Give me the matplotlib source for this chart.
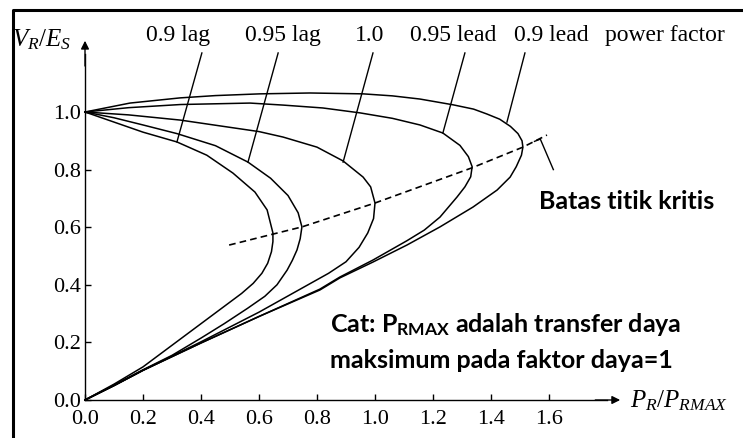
import matplotlib
matplotlib.use("Agg")
import matplotlib.pyplot as plt
from matplotlib.lines import Line2D

plt.rcParams["font.family"] = ["Liberation Serif", "DejaVu Serif"]
plt.rcParams["mathtext.fontset"] = "custom"
plt.rcParams["mathtext.it"] = "Liberation Serif:italic"
plt.rcParams["mathtext.rm"] = "Liberation Serif"
plt.rcParams["mathtext.bf"] = "Lato:bold"

# receiving-end voltage V_R/E_S against P_R/P_RMAX, one curve per power factor
lag09_x = [0.0, 0.1, 0.2, 0.317, 0.42, 0.51, 0.586, 0.628, 0.648, 0.648, 0.643, 0.63, 0.61, 0.58, 0.54, 0.48, 0.4, 0.3, 0.2, 0.1, 0.0]
lag09_y = [1.0, 0.965, 0.93, 0.896, 0.85, 0.788, 0.722, 0.66, 0.58, 0.55, 0.515, 0.475, 0.44, 0.405, 0.37, 0.325, 0.265, 0.19, 0.115, 0.055, 0.0]

lag095_x = [0.0, 0.1, 0.2, 0.317, 0.45, 0.562, 0.64, 0.7, 0.735, 0.748, 0.742, 0.731, 0.715, 0.697, 0.662, 0.62, 0.56, 0.48, 0.4, 0.3, 0.2, 0.1, 0.0]
lag095_y = [1.0, 0.98, 0.955, 0.925, 0.883, 0.826, 0.77, 0.71, 0.65, 0.601, 0.56, 0.521, 0.485, 0.451, 0.4, 0.36, 0.318, 0.265, 0.215, 0.155, 0.105, 0.052, 0.0]

unity_x = [0.0, 0.15, 0.328, 0.6, 0.683, 0.8, 0.89, 0.959, 0.985, 1.0, 0.995, 0.975, 0.945, 0.9, 0.84, 0.76, 0.6, 0.4, 0.2, 0.1, 0.0]
unity_y = [1.0, 0.99, 0.972, 0.932, 0.913, 0.878, 0.83, 0.774, 0.74, 0.684, 0.63, 0.58, 0.53, 0.48, 0.44, 0.395, 0.305, 0.202, 0.103, 0.05, 0.0]

lead095_x = [0.0, 0.15, 0.33, 0.569, 0.683, 0.82, 0.948, 1.06, 1.155, 1.234, 1.293, 1.322, 1.335, 1.33, 1.31, 1.283, 1.224, 1.17, 1.11, 0.993, 0.879, 0.81, 0.6, 0.4, 0.2, 0.1, 0.0]
lead095_y = [1.0, 1.015, 1.026, 1.031, 1.024, 1.014, 0.997, 0.978, 0.955, 0.927, 0.884, 0.845, 0.81, 0.775, 0.74, 0.705, 0.635, 0.59, 0.553, 0.486, 0.427, 0.385, 0.29, 0.198, 0.103, 0.05, 0.0]

lead09_x = [0.0, 0.155, 0.328, 0.45, 0.603, 0.776, 0.959, 1.06, 1.155, 1.269, 1.34, 1.386, 1.43, 1.467, 1.493, 1.507, 1.51, 1.505, 1.487, 1.466, 1.421, 1.338, 1.224, 1.11, 0.993, 0.879, 0.81, 0.6, 0.4, 0.2, 0.1, 0.0]
lead09_y = [1.0, 1.031, 1.049, 1.057, 1.063, 1.066, 1.063, 1.056, 1.045, 1.025, 1.01, 0.993, 0.975, 0.95, 0.925, 0.9, 0.878, 0.85, 0.81, 0.774, 0.729, 0.67, 0.601, 0.538, 0.479, 0.424, 0.382, 0.29, 0.198, 0.103, 0.05, 0.0]

# locus of the critical (nose) points
crit_x = [0.497, 0.648, 0.748, 1.0, 1.334, 1.51, 1.593]
crit_y = [0.538, 0.576, 0.601, 0.684, 0.806, 0.878, 0.92]

pf_labels = ["0.9 lag", "0.95 lag", "1.0", "0.95 lead", "0.9 lead"]
label_x = [0.322, 0.684, 0.983, 1.269, 1.607]
# leader lines: top x, and the point where each one meets its curve
leader_top_x = [0.403, 0.666, 0.993, 1.310, 1.517]
leader_end_x = [0.317, 0.562, 0.890, 1.234, 1.455]
leader_end_y = [0.896, 0.826, 0.826, 0.927, 0.965]

xticks = [0.0, 0.2, 0.4, 0.6, 0.8, 1.0, 1.2, 1.4, 1.6]
yticks = [0.0, 0.2, 0.4, 0.6, 0.8, 1.0]

fig = plt.figure(figsize=(7.43, 4.38), dpi=100)
ax = fig.add_axes([0, 0, 1, 1])
ax.set_xlim(-85 / 290, 658 / 290)
ax.set_ylim(-38 / 288, 400 / 288)

for xs, ys in [(lag09_x, lag09_y), (lag095_x, lag095_y), (unity_x, unity_y),
               (lead095_x, lead095_y), (lead09_x, lead09_y)]:
    ax.plot(xs, ys, color="black", lw=1.1, solid_joinstyle="round")

ax.plot(crit_x, crit_y, color="black", lw=1.2, ls=(0, (4, 2.5)))

# axes through the origin with arrow heads
for side in ["top", "right"]:
    ax.spines[side].set_visible(False)
ax.spines["left"].set_position(("data", 0))
ax.spines["bottom"].set_position(("data", 0))
ax.spines["left"].set_bounds(0, 1.2)
ax.spines["bottom"].set_bounds(0, 1.8)
ax.spines["left"].set_linewidth(1.0)
ax.spines["bottom"].set_linewidth(1.0)
ax.annotate("", xy=(1.855, 0), xytext=(1.75, 0),
            arrowprops=dict(arrowstyle="-|>", color="black", lw=1.0, mutation_scale=12))
ax.annotate("", xy=(0, 1.257), xytext=(0, 1.15),
            arrowprops=dict(arrowstyle="-|>", color="black", lw=1.0, mutation_scale=12))

ax.set_xticks(xticks)
ax.set_yticks(yticks)
ax.set_xticklabels([f"{v:.1f}" for v in xticks])
ax.set_yticklabels([f"{v:.1f}" for v in yticks])
ax.tick_params(direction="in", length=4, width=1.0, labelsize=16, pad=3)
ax.tick_params(axis="x", pad=7)
ax.patch.set_visible(False)

ax.text(-0.25, 1.25, r"$V_R/E_S$", fontsize=18, ha="left", va="center")
ax.text(1.88, -0.003, r"$P_R/P_{RMAX}$", fontsize=18, ha="left", va="center")

# power factor labels and leader lines
for lab, lx, tx, ex, ey in zip(pf_labels, label_x, leader_top_x, leader_end_x, leader_end_y):
    ax.text(lx, 1.267, lab, fontsize=17, ha="center", va="center")
    ax.plot([tx, ex], [1.205, ey], color="black", lw=1.0)
ax.text(2.0, 1.267, "power factor", fontsize=17, ha="center", va="center")

# critical point note
ax.plot([1.55, 1.57, 1.615], [0.898, 0.906, 0.80], color="black", lw=1.0)
ax.text(1.566, 0.6875, "Batas titik kritis", fontsize=18, fontweight="bold",
        family="Lato", ha="left", va="center")
ax.text(0.845, 0.262, r"Cat: P$_{\mathbf{RMAX}}$ adalah transfer daya", fontsize=18,
        fontweight="bold", family="Lato", ha="left", va="center")
ax.text(0.845, 0.137, "maksimum pada faktor daya=1", fontsize=18,
        fontweight="bold", family="Lato", ha="left", va="center")

# outer frame (left and top edges)
fig.add_artist(Line2D([13 / 743, 13 / 743, 1.0], [0.0, 1 - 10 / 438, 1 - 10 / 438],
                      color="black", lw=2.2, transform=fig.transFigure))

fig.savefig("out.png", dpi=100)
